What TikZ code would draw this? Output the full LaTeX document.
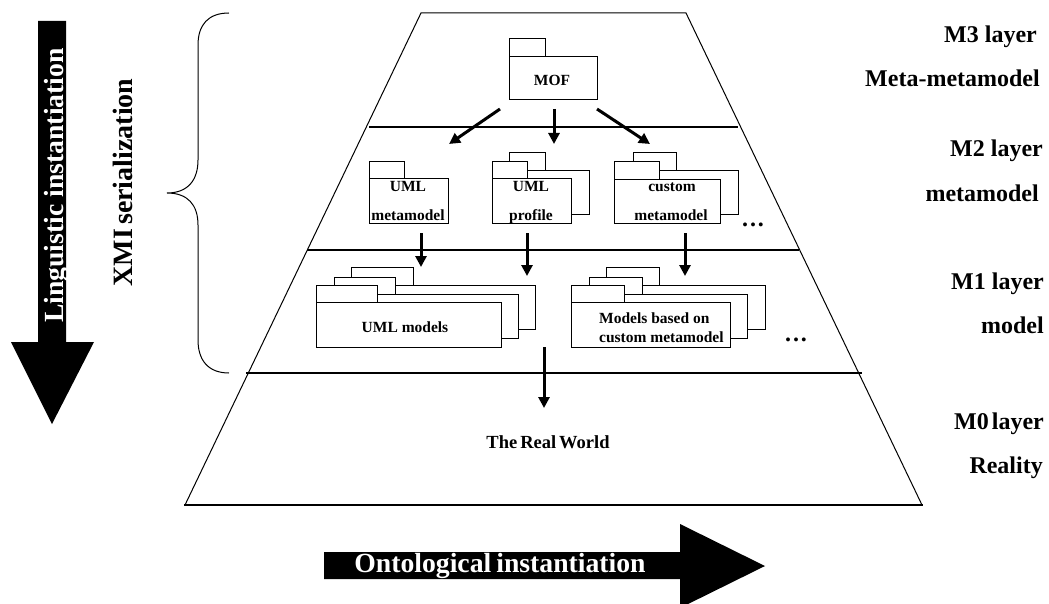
\documentclass[tikz,border=0pt]{standalone}
\usepackage{fontspec}
\setmainfont{Liberation Serif}
\usetikzlibrary{arrows.meta}
\tikzset{
  x=1pt,y=-1pt,
  layerline/.style={draw=black,line width=2pt},
  edge/.style={draw=black,line width=1pt},
  pkg/.style={draw=black,line width=1pt,fill=white},
  flow/.style={draw=black,line width=3pt,-{Triangle[length=11pt,width=11pt]}},
  lbl/.style={font=\bfseries\fontsize{15.5}{15.5}\selectfont,inner sep=0pt,text=black,anchor=base},
  rlabel/.style={font=\bfseries\fontsize{24}{24}\selectfont,inner sep=0pt,anchor=base east},
  dots/.style={font=\bfseries\fontsize{24}{24}\selectfont,inner sep=0pt},
}
\newcommand{\pkgbox}[7]{% tab left, tab right, tab top, body left, body top, body right, body bottom
  \draw[pkg] (#1,#3) rectangle (#2,#5);
  \draw[pkg] (#4,#5) rectangle (#6,#7);
}
\begin{document}
\begin{tikzpicture}
\useasboundingbox (0,0) rectangle (1049,604);
% pyramid
\draw[edge] (185,505) -- (421,13) -- (686,13) -- (922,505);
\coordinate (l0a) at (184,505); \coordinate (l0b) at (923,505);
\coordinate (l1a) at (369,127); \coordinate (l1b) at (738,127);
\coordinate (l2a) at (307,250); \coordinate (l2b) at (799,250);
\coordinate (l3a) at (246,373); \coordinate (l3b) at (862,373);
\draw[layerline] (l0a) -- (l0b);
\draw[layerline] (l1a) -- (l1b);
\draw[layerline] (l2a) -- (l2b);
\draw[layerline] (l3a) -- (l3b);
% packages
\pkgbox{509}{545}{39}{509}{57}{597}{100}
\pkgbox{369}{404}{162}{369}{179}{448}{223}
\pkgbox{509}{545}{153}{509}{171}{589}{215}
\pkgbox{492}{527}{162}{492}{179}{571}{223}
\pkgbox{633}{676}{153}{633}{171}{738}{215}
\pkgbox{614}{659}{162}{614}{180}{720}{223}
\pkgbox{351}{413}{267}{351}{285}{535}{329}
\pkgbox{334}{395}{277}{334}{294}{518}{338}
\pkgbox{316}{377}{285}{316}{302}{501}{347}
\pkgbox{606}{659}{267}{606}{285}{765}{329}
\pkgbox{589}{642}{277}{589}{294}{747}{338}
\pkgbox{571}{624}{285}{571}{302}{730}{347}
% labels
\node[lbl] (mof) at (552,86) {MOF};
\node[lbl] (uml1) at (408,192) {UML};
\node[lbl] (meta1) at (408,221) {metamodel};
\node[lbl] (uml2) at (531,192) {UML};
\node[lbl] (prof) at (531,221) {profile};
\node[lbl] (cust) at (672,192) {custom};
\node[lbl] (meta2) at (671,221) {metamodel};
\node[lbl] (umlm) at (405,332) {UML models};
\node[lbl,anchor=base west] (mb) at (599,323) {Models based on};
\node[lbl,anchor=base west] (cm) at (599,342) {custom metamodel};
\node[lbl,font=\bfseries\fontsize{18.5}{18.5}\selectfont] (real) at (548,448) {The\hspace{3pt}Real\hspace{3pt}World};
\node[dots] (d1) at (753,225) {.\hspace{2pt}.\hspace{2pt}.};
\node[dots] (d2) at (796,340) {.\hspace{2pt}.\hspace{2pt}.};
% arrows
\coordinate (a1) at (500,109); \coordinate (a1e) at (449,144);
\coordinate (a2) at (554,109); \coordinate (a2e) at (554,144);
\coordinate (a3) at (597,109); \coordinate (a3e) at (650,144);
\coordinate (b1) at (421,233); \coordinate (b1e) at (421,267);
\coordinate (b2) at (527,233); \coordinate (b2e) at (527,276);
\coordinate (b3) at (685,233); \coordinate (b3e) at (685,276);
\coordinate (c1) at (544,347); \coordinate (c1e) at (544,408);
\foreach \s/\e in {a1/a1e,a2/a2e,a3/a3e,b1/b1e,b2/b2e,b3/b3e,c1/c1e}
  \draw[flow] (\s) -- (\e);
% brace
\draw[edge] (229,13) .. controls (208,13) and (198,25) .. (198,45) -- (198,160)
  .. controls (198,180) and (188,193) .. (167,193)
  .. controls (188,193) and (198,205) .. (198,225) -- (198,340)
  .. controls (198,360) and (208,373) .. (229,373);
% big arrows
\fill[black] (38,21) -- (66,21) -- (66,342) -- (94,342) -- (52,424) -- (11,342) -- (38,342) -- cycle;
\fill[black] (324,552) -- (680,552) -- (680,524) -- (765,566) -- (680,608) -- (680,579) -- (324,579) -- cycle;
\node[font=\bfseries\fontsize{27.7}{27.7}\selectfont,text=white,rotate=90,inner sep=0pt,anchor=base] (li) at (63.5,185.5) {Linguistic instantiation};
\node[font=\bfseries\fontsize{28}{28}\selectfont,rotate=90,inner sep=0pt,anchor=base] (xmi) at (132,182.5) {XMI\hspace{4pt}serialization};
\node[font=\bfseries\fontsize{27.7}{27.7}\selectfont,text=white,inner sep=0pt,anchor=base] (oi) at (500,572) {Ontological\hspace{5pt}instantiation};
% right labels
\node[rlabel] (m3) at (1037,43) {M3 layer};
\node[rlabel] (mm) at (1040,87) {Meta-metamodel};
\node[rlabel] (m2) at (1043,157) {M2 layer};
\node[rlabel] (m2b) at (1039,201) {metamodel};
\node[rlabel] (m1) at (1044,289) {M1 layer};
\node[rlabel] (m1b) at (1044,333) {model};
\node[rlabel] (m0) at (1044,429) {M0\hspace{3pt}layer};
\node[rlabel] (m0b) at (1043,473) {Reality};
\end{tikzpicture}
\end{document}
